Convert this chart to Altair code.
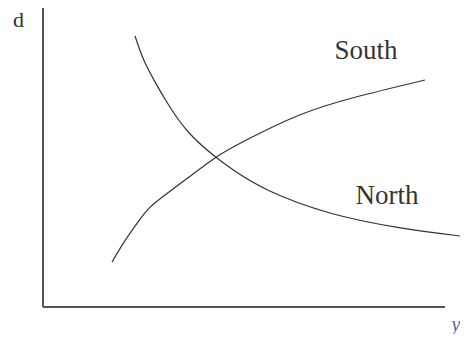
import altair as alt
import pandas as pd

# Curve values (abstract units)
north_x = [92, 100, 112, 124, 144, 172, 187, 220, 287, 354, 425]
north_y = [271, 247, 225, 204, 174, 150, 139, 117, 92, 79, 70]
south_x = [69, 82, 95, 105, 122, 145, 172, 197, 257, 307, 382]
south_y = [45, 67, 85, 99, 112, 129, 150, 164, 194, 209, 227]

# Labels
label_text = ["South", "North"]
label_x = [323, 344]
label_y = [248, 103]

axis_y_label = "d"
axis_x_label = "y"

X_DOMAIN = [-35, 417]
Y_DOMAIN = [-27, 299]
X_AXIS_END = 402
Y_AXIS_END = 299

xs = alt.Scale(domain=X_DOMAIN, nice=False, zero=False)
ys = alt.Scale(domain=Y_DOMAIN, nice=False, zero=False)

curves = pd.DataFrame(
    {"x": north_x + south_x,
     "y": north_y + south_y,
     "curve": ["North"] * len(north_x) + ["South"] * len(south_x),
     "order": list(range(len(north_x))) + list(range(len(south_x)))}
)

lines = alt.Chart(curves).mark_line(
    color="#333333", strokeWidth=1.2, interpolate="basis", clip=False
).encode(
    x=alt.X("x:Q", scale=xs, axis=None),
    y=alt.Y("y:Q", scale=ys, axis=None),
    detail="curve:N",
    order="order:Q",
)

axes_df = pd.DataFrame({"x": [0, 0], "x2": [0, X_AXIS_END], "y": [0, 0], "y2": [Y_AXIS_END, 0]})
axes = alt.Chart(axes_df).mark_rule(color="#555555", strokeWidth=2).encode(
    x=alt.X("x:Q", scale=xs, axis=None), x2="x2:Q",
    y=alt.Y("y:Q", scale=ys, axis=None), y2="y2:Q",
)

labels_df = pd.DataFrame({"t": label_text, "x": label_x, "y": label_y})
labels = alt.Chart(labels_df).mark_text(
    font="Liberation Serif", fontSize=27, color="#333333", align="center", baseline="alphabetic"
).encode(
    x=alt.X("x:Q", scale=xs, axis=None),
    y=alt.Y("y:Q", scale=ys, axis=None),
    text="t:N",
)

d_df = pd.DataFrame({"t": [axis_y_label], "x": [-24.5], "y": [280]})
d_label = alt.Chart(d_df).mark_text(
    font="Liberation Serif", fontSize=22, color="#333333", align="center", baseline="alphabetic"
).encode(
    x=alt.X("x:Q", scale=xs, axis=None),
    y=alt.Y("y:Q", scale=ys, axis=None),
    text="t:N",
)

yl_df = pd.DataFrame({"t": [axis_x_label], "x": [413], "y": [-24]})
y_label = alt.Chart(yl_df).mark_text(
    font="Liberation Serif", fontSize=20, fontStyle="italic", color="#6a5a8a",
    align="center", baseline="alphabetic"
).encode(
    x=alt.X("x:Q", scale=xs, axis=None),
    y=alt.Y("y:Q", scale=ys, axis=None),
    text="t:N",
)

chart = alt.layer(axes, lines, labels, d_label, y_label).properties(
    width=452, height=326, padding=0, autosize=alt.AutoSizeParams(type="none"),
    background="white",
).configure_view(stroke=None)

chart.save("out.html", embed_options={"renderer": "svg", "actions": False})
